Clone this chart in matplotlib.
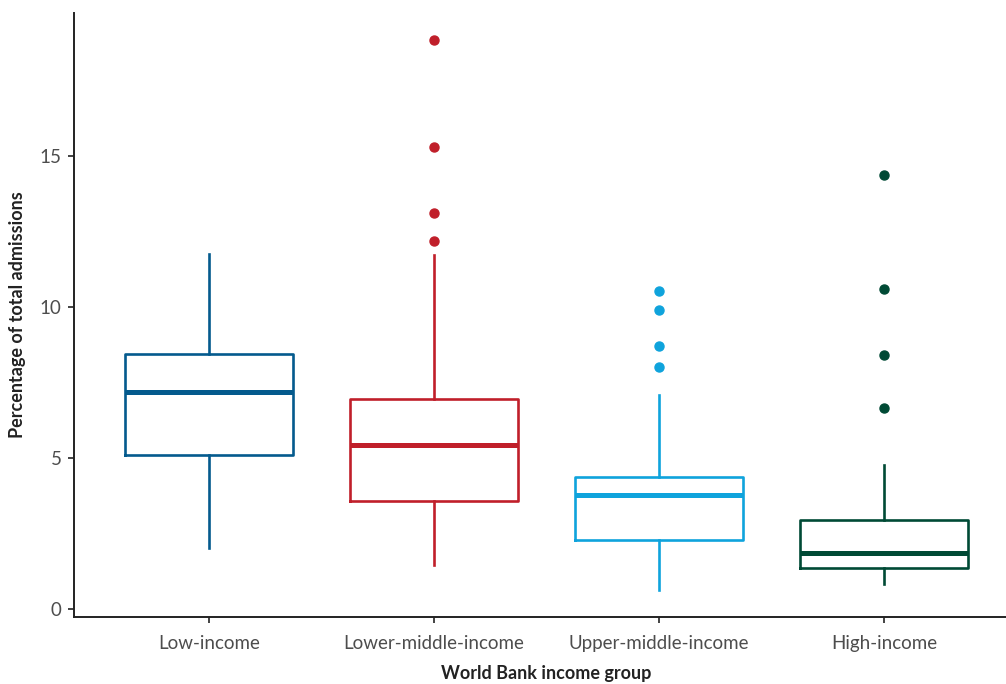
import matplotlib
matplotlib.use("Agg")
import matplotlib.pyplot as plt

plt.rcParams['font.family'] = ['Lato', 'DejaVu Sans']

groups = ['Low-income', 'Lower-middle-income', 'Upper-middle-income', 'High-income']
colors = ['#045a8d', '#c01f2a', '#0fa3dc', '#004a35']

whislo = [2.02, 1.46, 0.63, 0.83]
q1 = [5.08, 3.58, 2.29, 1.36]
med = [7.17, 5.44, 3.78, 1.83]
q3 = [8.46, 6.94, 4.35, 2.95]
whishi = [11.78, 11.72, 7.10, 4.75]
fliers = [
    [],
    [18.85, 15.30, 13.11, 12.21],
    [10.52, 9.89, 8.70, 8.03],
    [14.37, 10.59, 8.40, 6.64],
]

stats = []
for i in range(len(groups)):
    stats.append(dict(whislo=whislo[i], q1=q1[i], med=med[i], q3=q3[i],
                      whishi=whishi[i], fliers=fliers[i], label=groups[i]))

fig = plt.figure(figsize=(10.06, 6.84), dpi=100)
ax = fig.add_axes([74/1006, 67/684, 945/1006, 604/684])

for i, s in enumerate(stats):
    c = colors[i]
    ax.bxp([s], positions=[i + 1], widths=0.75, showcaps=False,
           boxprops=dict(color=c, linewidth=1.9),
           whiskerprops=dict(color=c, linewidth=1.9),
           medianprops=dict(color=c, linewidth=3.6, solid_capstyle='butt'),
           flierprops=dict(marker='o', markerfacecolor=c, markeredgecolor=c,
                           markersize=6.5))

lo = min(whislo)
hi = max(max(f) for f in fliers if f)
pad = 0.05 * (hi - lo)
ax.set_ylim(lo - pad, hi + pad)
ax.set_xlim(0.4, 4.6)
ax.set_xticks(range(1, 5))
ax.set_xticklabels(groups)
ax.set_yticks([0, 5, 10, 15])

for side in ['top', 'right']:
    ax.spines[side].set_visible(False)
for side in ['left', 'bottom']:
    ax.spines[side].set_color('#222222')
    ax.spines[side].set_linewidth(1.4)
ax.tick_params(colors='#222222', labelcolor='#4d4d4d', labelsize=13.5,
               length=4, width=1.2)
ax.tick_params(axis='x', pad=9)
ax.tick_params(axis='y', pad=5)

ax.set_xlabel('World Bank income group', fontsize=13, fontweight='bold',
              color='#222222', labelpad=9)
ax.set_ylabel('Percentage of total admissions', fontsize=13, fontweight='bold',
              color='#222222', labelpad=10)

fig.savefig('out.png', dpi=100)
